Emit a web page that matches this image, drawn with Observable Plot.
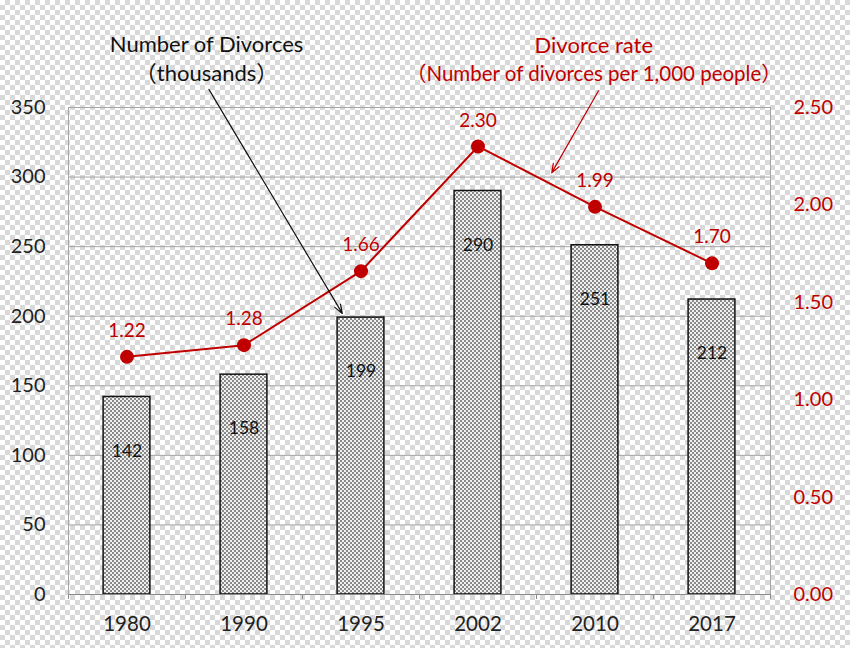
<!DOCTYPE html>
<html><head><meta charset="utf-8">
<script src="https://cdn.jsdelivr.net/npm/d3@7"></script>
<script src="https://cdn.jsdelivr.net/npm/@observablehq/plot@0.6"></script>
<style>
body{margin:0;background:#fff;}
</style></head><body><div id="chart"></div>
<script>
// ---- data ----
const years = ["1980", "1990", "1995", "2002", "2010", "2017"];
const divorces = [142, 158, 199, 290, 251, 212];      // thousands
const rates = [1.22, 1.28, 1.66, 2.30, 1.99, 1.70];   // per 1,000 people
const leftTicks = [0, 50, 100, 150, 200, 250, 300, 350];
const rateTicks = [0, 0.5, 1.0, 1.5, 2.0, 2.5];
// annotation labels (x in category index units, y in left-axis units)
const noteTextBlack = ["Number of Divorces", "（thousands）"];
const noteTextRed = ["Divorce rate", "（Number of divorces per 1,000 people）"];

const k = 350 / 2.5; // right axis -> left axis
const data = years.map((y, i) => ({i, year: y, n: divorces[i], r: rates[i]}));

const notes = [
  {x: 0.68, y: 395, text: noteTextBlack[0], color: "#111", size: 22},
  {x: 0.68, y: 374, text: noteTextBlack[1], color: "#111", size: 22},
  {x: 3.99, y: 394, text: noteTextRed[0], color: "#c00000", size: 22},
  {x: 3.99, y: 374, text: noteTextRed[1], color: "#c00000", size: 20.5}
];
const arrows = [
  {x1: 0.70, y1: 363, x2: 1.84, y2: 202, color: "#111"},
  {x1: 4.03, y1: 362, x2: 3.63, y2: 303, color: "#c00000"}
];

const font = "Lato, 'Noto Sans CJK JP', sans-serif";

const chart = Plot.plot({
  width: 850, height: 648,
  marginLeft: 68, marginRight: 80, marginTop: 107, marginBottom: 54,
  style: {fontFamily: font, fontSize: "20px",
    background: "repeating-conic-gradient(#d9d9d9 0 25%, #ffffff 0 50%) 0 0/10px 10px"},
  x: {type: "linear", domain: [-0.5, 5.5]},
  y: {domain: [0, 350]},
  marks: [
    Plot.gridY(leftTicks, {stroke: "#a6a6a6", strokeOpacity: 1}),
    Plot.ruleX([-0.5, 5.5], {stroke: "#a6a6a6"}),
    Plot.rectY(data, {x1: d => d.i - 0.2, x2: d => d.i + 0.2, y: "n", fill: "url(#hatch)", stroke: "#111", strokeWidth: 1.5}),
    Plot.ruleY([0], {stroke: "#8c8c8c", strokeWidth: 1.2}),
    Plot.axisX(d3.range(-0.5, 6, 1), {tickSize: 5, tickFormat: () => "", stroke: "#8c8c8c"}),
    Plot.axisX(d3.range(6), {tickSize: 0, tickPadding: 22, tickFormat: i => years[i], fontSize: 20.5, color: "#222", label: null}),
    Plot.axisY(leftTicks, {anchor: "left", tickSize: 0, tickPadding: 23, fontSize: 20, color: "#222", label: null}),
    Plot.axisY(rateTicks.map(v => v * k), {anchor: "right", tickSize: 0, tickPadding: 23, fontSize: 20, color: "#c00000",
      tickFormat: v => (v / k).toFixed(2), label: null}),
    Plot.text(data, {x: "i", y: "n", text: d => String(d.n), dy: 54, fontSize: 17.5, fill: "#111"}),
    Plot.line(data, {x: "i", y: d => d.r * k, stroke: "#c00000", strokeWidth: 2}),
    Plot.dot(data, {x: "i", y: d => d.r * k, r: 7, fill: "#c00000"}),
    Plot.text(data, {x: "i", y: d => d.r * k, text: d => d.r.toFixed(2), dy: -26, fontSize: 19, fill: "#c00000"}),
    Plot.arrow(arrows, {x1: "x1", y1: "y1", x2: "x2", y2: "y2", stroke: "color", strokeWidth: 1.2, headLength: 12, headAngle: 40}),
    Plot.text(notes, {x: "x", y: "y", text: "text", fill: "color", fontSize: "size"})
  ]
});

// patterns
const svg = d3.select(chart);
const defs = svg.insert("defs", ":first-child");
const pat = defs.append("pattern").attr("id", "hatch").attr("patternUnits", "userSpaceOnUse").attr("width", 4).attr("height", 4);
pat.append("rect").attr("width", 4).attr("height", 4).attr("fill", "#f0f0f0");
pat.append("rect").attr("width", 2).attr("height", 2).attr("fill", "#8a8a8a");
pat.append("rect").attr("x", 2).attr("y", 2).attr("width", 2).attr("height", 2).attr("fill", "#8a8a8a");

document.getElementById("chart").append(chart);
</script>
</body></html>
